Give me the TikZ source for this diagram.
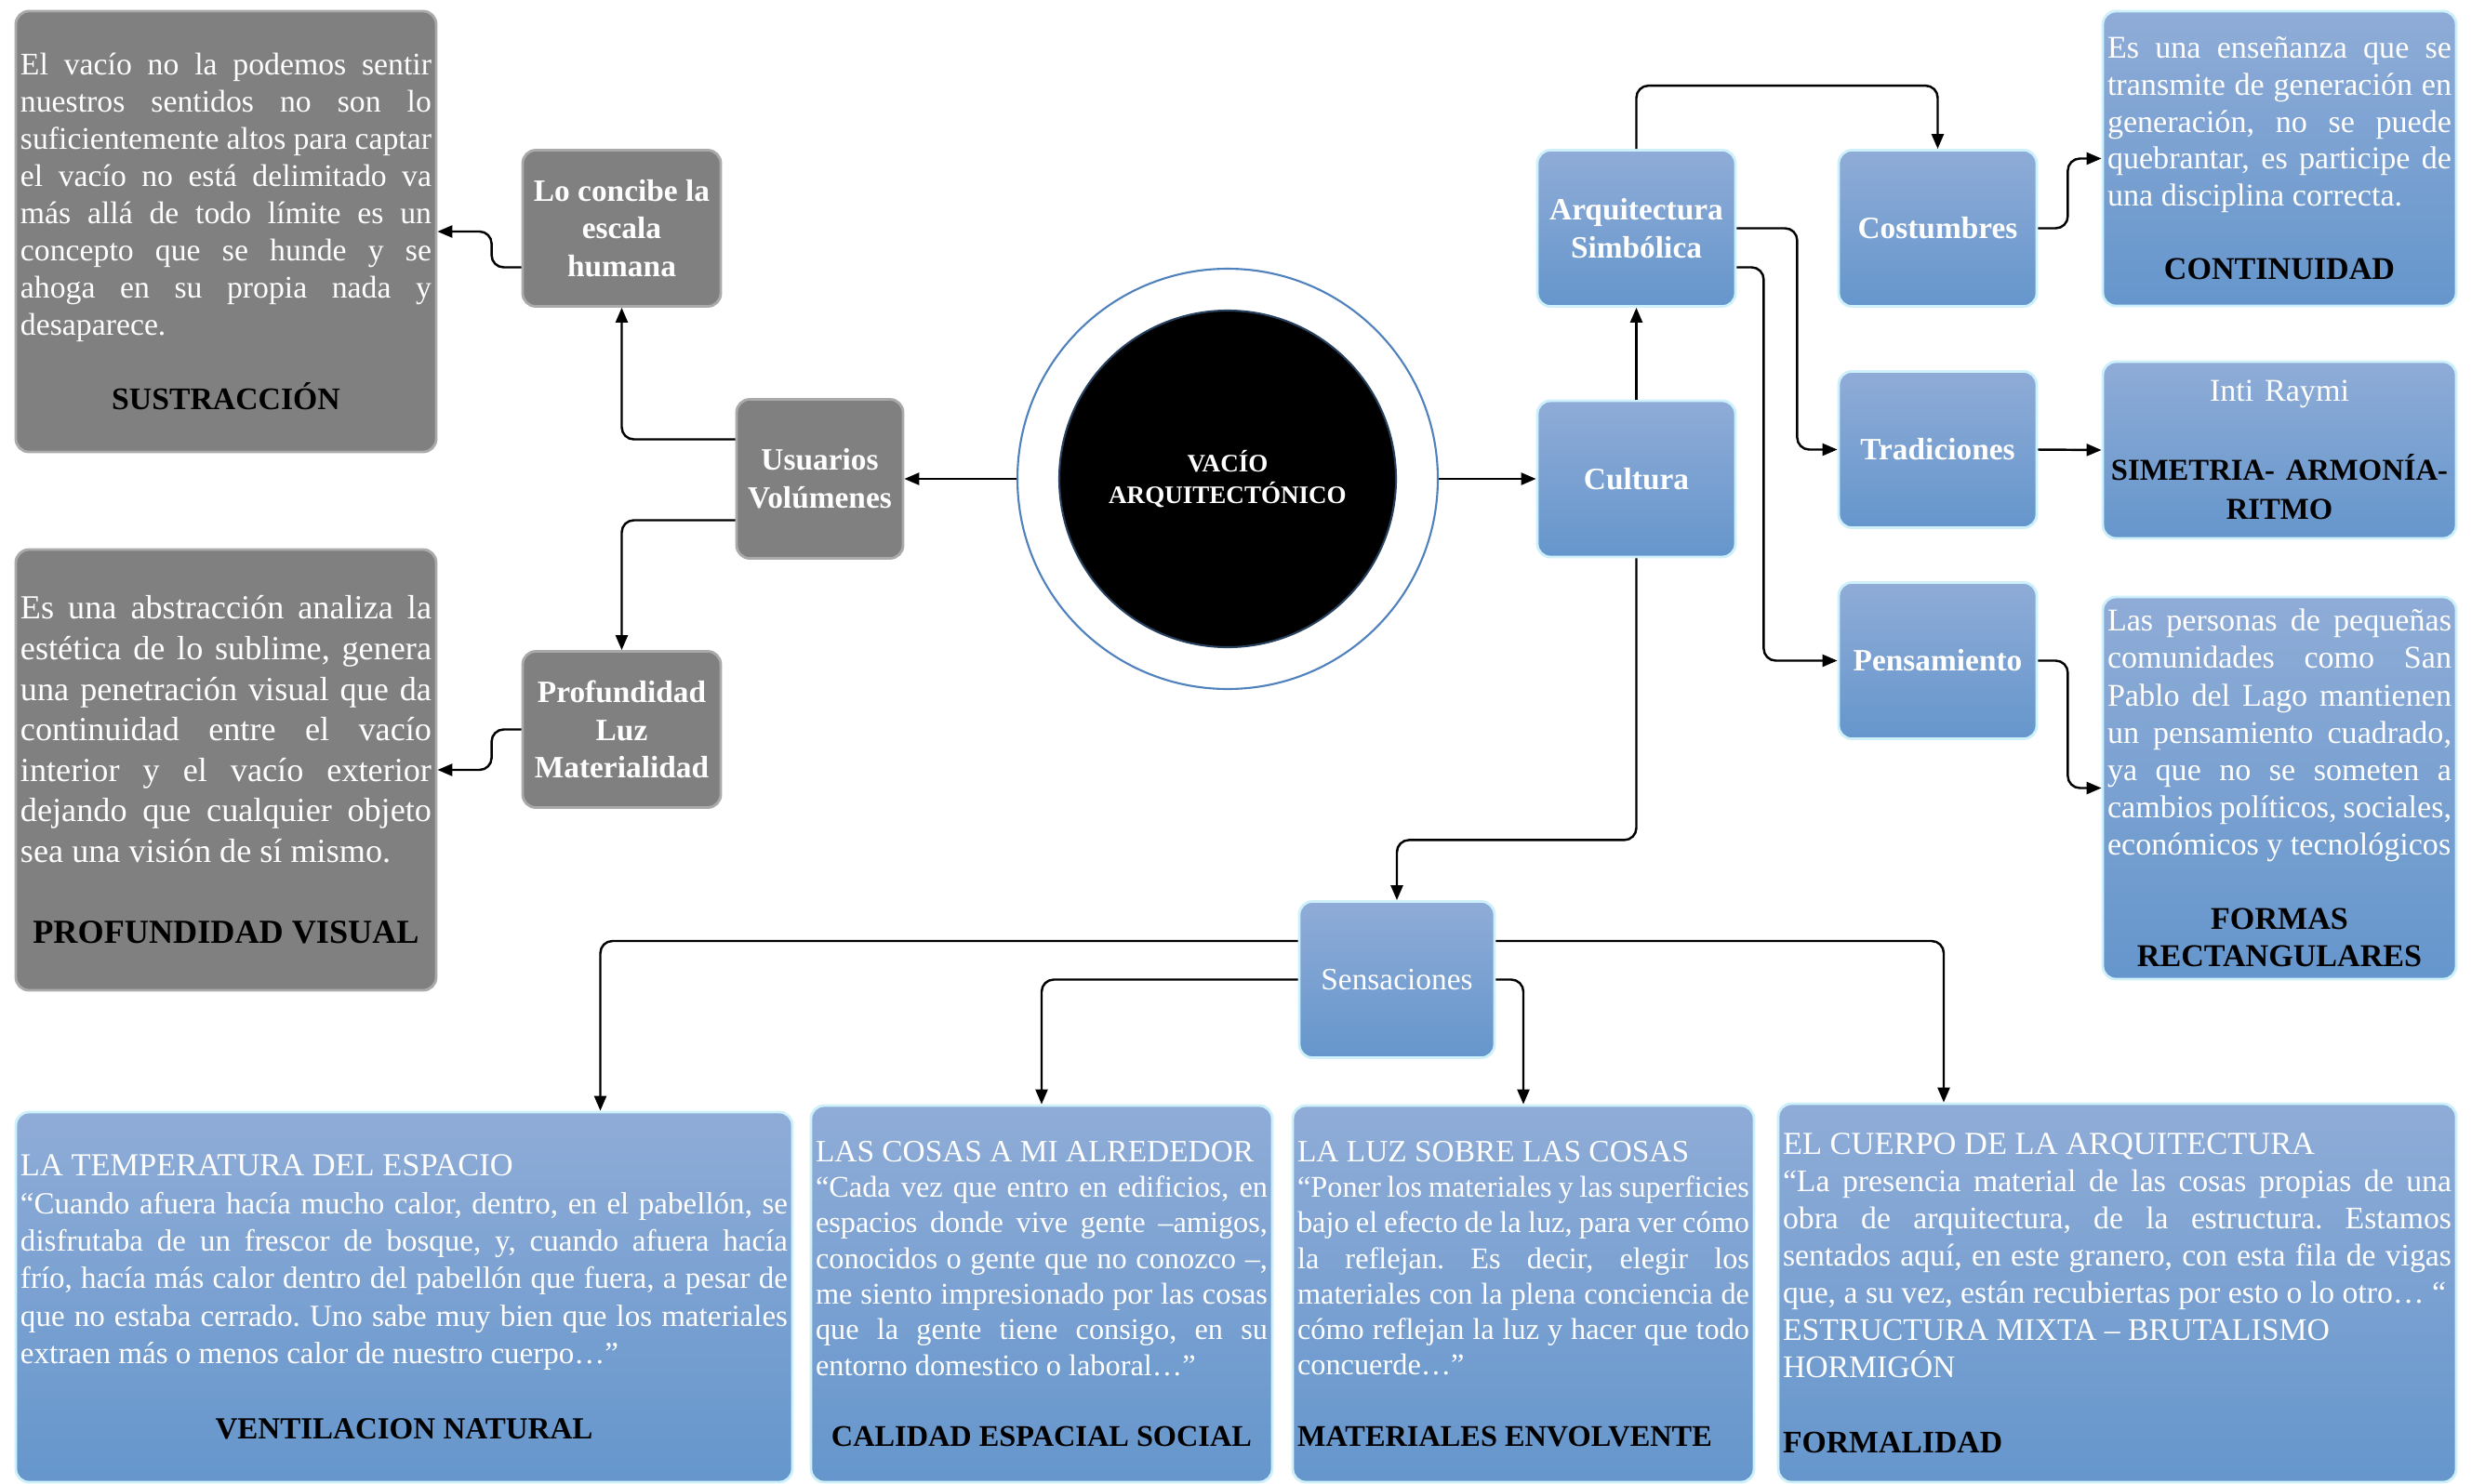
\documentclass[tikz,border=0pt]{standalone}
\usepackage{fontspec}
\setmainfont{Liberation Serif}
\usetikzlibrary{arrows.meta}
\definecolor{boxgray}{RGB}{128,128,128}
\definecolor{grayedge}{RGB}{170,170,170}
\definecolor{blutop}{RGB}{143,172,215}
\definecolor{blubot}{RGB}{101,150,204}
\definecolor{bluedge}{RGB}{205,240,250}
\definecolor{ringblue}{RGB}{79,129,189}
\tolerance=10000
\hbadness=10000
\hyphenpenalty=10000
\frenchspacing
\newcommand{\bodysize}[2]{\fontsize{#1}{#2}\selectfont}
\newcommand{\boxtitle}[1]{{\centering\color{black}\bfseries #1\par}}
\tikzset{
  graybox/.style={draw=grayedge,line width=0.8pt,fill=boxgray,rounded corners=4pt,text=white,inner sep=0.5mm},
  bluebox/.style={draw=bluedge,line width=0.8pt,top color=blutop,bottom color=blubot,rounded corners=4pt,text=white,inner sep=0.5mm},
  tag/.style={minimum width=2.13cm,minimum height=1.68cm,align=center,font=\fontsize{9.5}{11.6}\selectfont\bfseries},
  desc/.style={align=justify},
  ring/.style={circle,draw=ringblue,line width=0.6pt,fill=white,minimum size=4.52cm},
  core/.style={circle,draw=ringblue!50!black,line width=0.6pt,fill=black,minimum size=3.62cm,text=white,align=center,font=\fontsize{7.7}{9.7}\selectfont\bfseries},
  link/.style={->,line width=0.7pt,rounded corners=1.3mm}
}

\begin{document}
\begin{tikzpicture}[>={Triangle[length=1.6mm,width=1.3mm]}]
  \useasboundingbox (0,0) rectangle (26.72,-15.96);
  \node[ring] (ring) at (13.2,-5.15) {};
  \node[core] (core) at (ring) {VACÍO\\ARQUITECTÓNICO};

  \node[graybox,tag,minimum width=1.79cm,minimum height=1.71cm] (usu) at (8.815,-5.15) {Usuarios\\Volúmenes};
  \node[graybox,tag] (esc) at (6.685,-2.455) {Lo concibe la\\escala\\humana};
  \node[graybox,tag] (prof) at (6.685,-7.845) {Profundidad\\Luz\\Materialidad};
  \node[graybox,desc,minimum width=4.52cm,minimum height=4.74cm,text width=4.42cm] (sus) at (2.43,-2.49)
    {\bodysize{9.6}{11.4}El vacío no la podemos sentir\linebreak nuestros sentidos no son lo\linebreak suficientemente altos para captar\linebreak el vacío no está delimitado va\linebreak más allá de todo límite es un\linebreak concepto que se hunde y se\linebreak ahoga en su propia nada y\linebreak desaparece.\par\vskip\baselineskip
     \boxtitle{SUSTRACCIÓN}};
  \node[graybox,desc,minimum width=4.52cm,minimum height=4.74cm,text width=4.42cm] (pvis) at (2.43,-8.28)
    {\bodysize{10.3}{12.4}Es una abstracción analiza la\linebreak estética de lo sublime, genera\linebreak una penetración visual que da\linebreak continuidad entre el vacío\linebreak interior y el vacío exterior\linebreak dejando que cualquier objeto\linebreak sea una visión de sí mismo.\par\vskip\baselineskip
     \boxtitle{PROFUNDIDAD VISUAL}};

  \node[bluebox,tag] (cult) at (17.595,-5.15) {Cultura};
  \node[bluebox,tag] (arq) at (17.595,-2.455) {Arquitectura\\Simbólica};
  \node[bluebox,tag] (cost) at (20.835,-2.455) {Costumbres};
  \node[bluebox,tag] (trad) at (20.835,-4.835) {Tradiciones};
  \node[bluebox,tag] (pens) at (20.835,-7.105) {Pensamiento};
  \node[bluebox,desc,minimum width=3.8cm,minimum height=3.17cm,text width=3.7cm] (cont) at (24.51,-1.705)
    {\bodysize{9.7}{11.3}Es una enseñanza que se\linebreak transmite de generación en\linebreak generación, no se puede\linebreak quebrantar, es participe de\linebreak una disciplina correcta.\par\vskip\baselineskip
     \boxtitle{CONTINUIDAD}};
  \node[bluebox,minimum width=3.8cm,minimum height=1.9cm,text width=3.7cm,align=center] (inti) at (24.51,-4.84)
    {\bodysize{9.7}{11.9}Inti Raymi\par\vskip\baselineskip
     {\color{black}\bfseries\bodysize{9.3}{12.2}SIMETRIA- ARMONÍA-\\RITMO}};
  \node[bluebox,desc,minimum width=3.8cm,minimum height=4.11cm,text width=3.7cm] (form) at (24.51,-8.475)
    {\bodysize{9.7}{11.4}Las personas de pequeñas\linebreak comunidades como San\linebreak Pablo del Lago mantienen\linebreak un pensamiento cuadrado,\linebreak ya que no se someten a\linebreak cambios políticos, sociales,\linebreak económicos y tecnológicos\par\vskip\baselineskip
     \boxtitle{FORMAS\par RECTANGULARES}};

  \node[bluebox,tag,font=\fontsize{9.5}{11.6}\selectfont,minimum width=2.1cm] (sens) at (15.02,-10.535) {Sensaciones};
  \node[bluebox,desc,minimum width=8.35cm,minimum height=3.98cm,text width=8.25cm] (temp) at (4.345,-13.95)
    {\bodysize{9.8}{11.5}LA TEMPERATURA DEL ESPACIO\par
     \bodysize{9.4}{11.5}“Cuando afuera hacía mucho calor, dentro, en el pabellón, se\linebreak disfrutaba de un frescor de bosque, y, cuando afuera hacía\linebreak frío, hacía más calor dentro del pabellón que fuera, a pesar de\linebreak que no estaba cerrado. Uno sabe muy bien que los materiales\linebreak extraen más o menos calor de nuestro cuerpo…”\par\vskip\baselineskip
     \boxtitle{VENTILACION NATURAL}};
  \node[bluebox,desc,minimum width=4.96cm,minimum height=4.05cm,text width=4.86cm] (cosas) at (11.2,-13.915)
    {\bodysize{9.5}{10.9}LAS COSAS A MI ALREDEDOR\par
     \bodysize{9.2}{10.9}“Cada vez que entro en edificios, en\linebreak espacios donde vive gente –amigos,\linebreak conocidos o gente que no conozco –,\linebreak me siento impresionado por las cosas\linebreak que la gente tiene consigo, en su\linebreak entorno domestico o laboral…”\par\vskip\baselineskip
     \boxtitle{CALIDAD ESPACIAL SOCIAL}};
  \node[bluebox,desc,minimum width=4.96cm,minimum height=4.05cm,text width=4.86cm] (luz) at (16.38,-13.915)
    {\bodysize{9.5}{10.9}LA LUZ SOBRE LAS COSAS\par
     \bodysize{9.2}{10.9}“Poner los materiales y las superficies\linebreak bajo el efecto de la luz, para ver cómo\linebreak la reflejan. Es decir, elegir los\linebreak materiales con la plena conciencia de\linebreak cómo reflejan la luz y hacer que todo\linebreak concuerde…”\par\vskip\baselineskip
     {\color{black}\bfseries MATERIALES ENVOLVENTE\par}};
  \node[bluebox,desc,minimum width=7.29cm,minimum height=4.07cm,text width=7.19cm] (cuerpo) at (22.765,-13.905)
    {\bodysize{9.8}{11.4}EL CUERPO DE LA ARQUITECTURA\par
     \bodysize{9.6}{11.4}“La presencia material de las cosas propias de una\linebreak obra de arquitectura, de la estructura. Estamos\linebreak sentados aquí, en este granero, con esta fila de vigas\linebreak que, a su vez, están recubiertas por esto o lo otro… “\par
     ESTRUCTURA MIXTA – BRUTALISMO\par HORMIGÓN\par\vskip\baselineskip
     {\color{black}\bfseries FORMALIDAD\par}};

  \draw[link] (ring.west) -- (usu.east);
  \draw[link] (ring.east) -- (cult.west);
  \draw[link] ([yshift=4.25mm]usu.west) -| (esc.south);
  \draw[link] ([yshift=-4.45mm]usu.west) -| (prof.north);
  \draw[link] ([yshift=-4.2mm]esc.west) -- ++(-0.32,0) |- (sus.east);
  \draw[link] (prof.west) -- ++(-0.32,0) |- (pvis.east);
  \draw[link] (cult.north) -- (arq.south);
  \draw[link] (arq.north) -- ++(0,0.68) -| (cost.north);
  \draw[link] (arq.east) -- ++(0.65,0) |- (trad.west);
  \draw[link] ([yshift=-4.2mm]arq.east) -- ++(0.29,0) |- (pens.west);
  \draw[link] (cost.east) -- ++(0.32,0) |- (cont.west);
  \draw[link] (trad.east) -- (inti.west);
  \draw[link] (pens.east) -- ++(0.32,0) |- (form.west);
  \draw[link] (cult.south) -- ++(0,-3.03) -| (sens.north);
  \draw[link] ([yshift=4.15mm]sens.west) -| ([xshift=21.1mm]temp.north);
  \draw[link] (sens.west) -| (cosas.north);
  \draw[link] (sens.east) -| (luz.north);
  \draw[link] ([yshift=4.15mm]sens.east) -| ([xshift=-18.65mm]cuerpo.north);
\end{tikzpicture}
\end{document}
